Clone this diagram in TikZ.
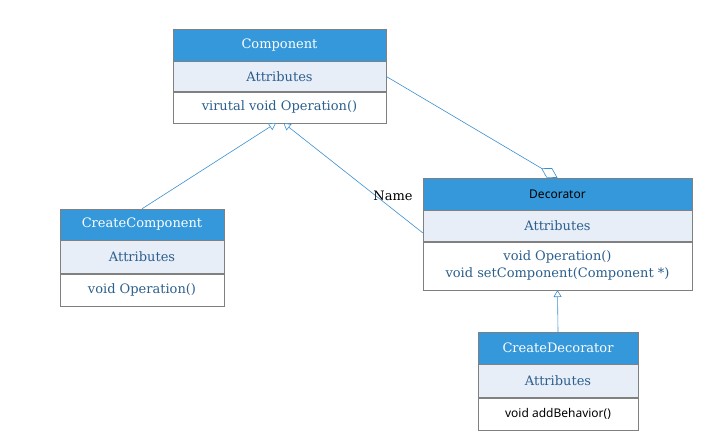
\documentclass[tikz,border=0pt]{standalone}
\usepackage{fontspec}
\setmainfont{DejaVu Serif}
\newfontfamily\uisans{Noto Sans}
\usetikzlibrary{positioning,arrows.meta}

\definecolor{headblue}{HTML}{3498DB}
\definecolor{attrfill}{HTML}{E8EEF8}
\definecolor{boxgray}{HTML}{808080}
\definecolor{textblue}{HTML}{2B5F8E}
\definecolor{lineblue}{HTML}{3A8FD0}

\tikzset{
  head/.style={rectangle, draw=boxgray, fill=headblue, text=white, font=\fontsize{13}{17}\selectfont, inner sep=0pt},
  attr/.style={rectangle, draw=boxgray, fill=attrfill, text=textblue, font=\fontsize{13}{17}\selectfont, inner sep=0pt},
  ops/.style={rectangle, draw=boxgray, fill=white, text=textblue, font=\fontsize{13}{17}\selectfont, inner sep=0pt, align=center},
  link/.style={draw=lineblue, line width=0.6pt},
  inherit/.style={link, -{Triangle[open, length=7pt, width=8pt, fill=white]}},
  aggregate/.style={link, -{Diamond[open, length=19pt, width=11pt, fill=white]}}
}

\begin{document}
\begin{tikzpicture}[x=1pt, y=-1pt]
  \useasboundingbox (0, 0) rectangle (726, 438);

  % Component
  \node (comp-head) [head, minimum width=213pt, minimum height=32pt] at (279.5, 45) {Component};
  \node (comp-attr) [attr, minimum width=213pt, minimum height=30pt, below=0pt of comp-head] {Attributes};
  \node (comp-ops) [ops, minimum width=213pt, minimum height=31pt, below=0pt of comp-attr] {virutal void Operation()};

  % CreateComponent
  \node (cc-head) [head, minimum width=164pt, minimum height=31pt] at (142, 224.5) {CreateComponent};
  \node (cc-attr) [attr, minimum width=164pt, minimum height=33pt, below=0pt of cc-head] {Attributes};
  \node (cc-ops) [ops, minimum width=164pt, minimum height=32pt, below=0pt of cc-attr] {void Operation()};

  % Decorator
  \node (dec-head) [head, minimum width=269pt, minimum height=32pt, text=black, font=\uisans\fontsize{12}{15}\selectfont] at (557.5, 194) {Decorator};
  \node (dec-attr) [attr, minimum width=269pt, minimum height=31pt, below=0pt of dec-head] {Attributes};
  \node (dec-ops) [ops, minimum width=269pt, minimum height=48pt, below=0pt of dec-attr] {void Operation()\\void setComponent(Component *)};

  % CreateDecorator
  \node (cd-head) [head, minimum width=160pt, minimum height=32pt] at (558, 348) {CreateDecorator};
  \node (cd-attr) [attr, minimum width=160pt, minimum height=33pt, below=0pt of cd-head] {Attributes};
  \node (cd-ops) [ops, minimum width=160pt, minimum height=32pt, below=0pt of cd-attr, text=black, font=\uisans\fontsize{12}{15}\selectfont] {void addBehavior()};

  % relations
  \draw[inherit] (cc-head.north) -- ([xshift=-3.5pt]comp-ops.south);
  \draw[inherit] ([yshift=-7pt]dec-attr.west) -- ([xshift=4pt]comp-ops.south);
  \node (name) [font=\fontsize{13}{17}\selectfont] at (393, 196) {Name};
  \draw[aggregate] (comp-attr.east) -- (dec-head.north);
  \draw[inherit] (cd-head.north) -- (dec-ops.south);
\end{tikzpicture}
\end{document}
